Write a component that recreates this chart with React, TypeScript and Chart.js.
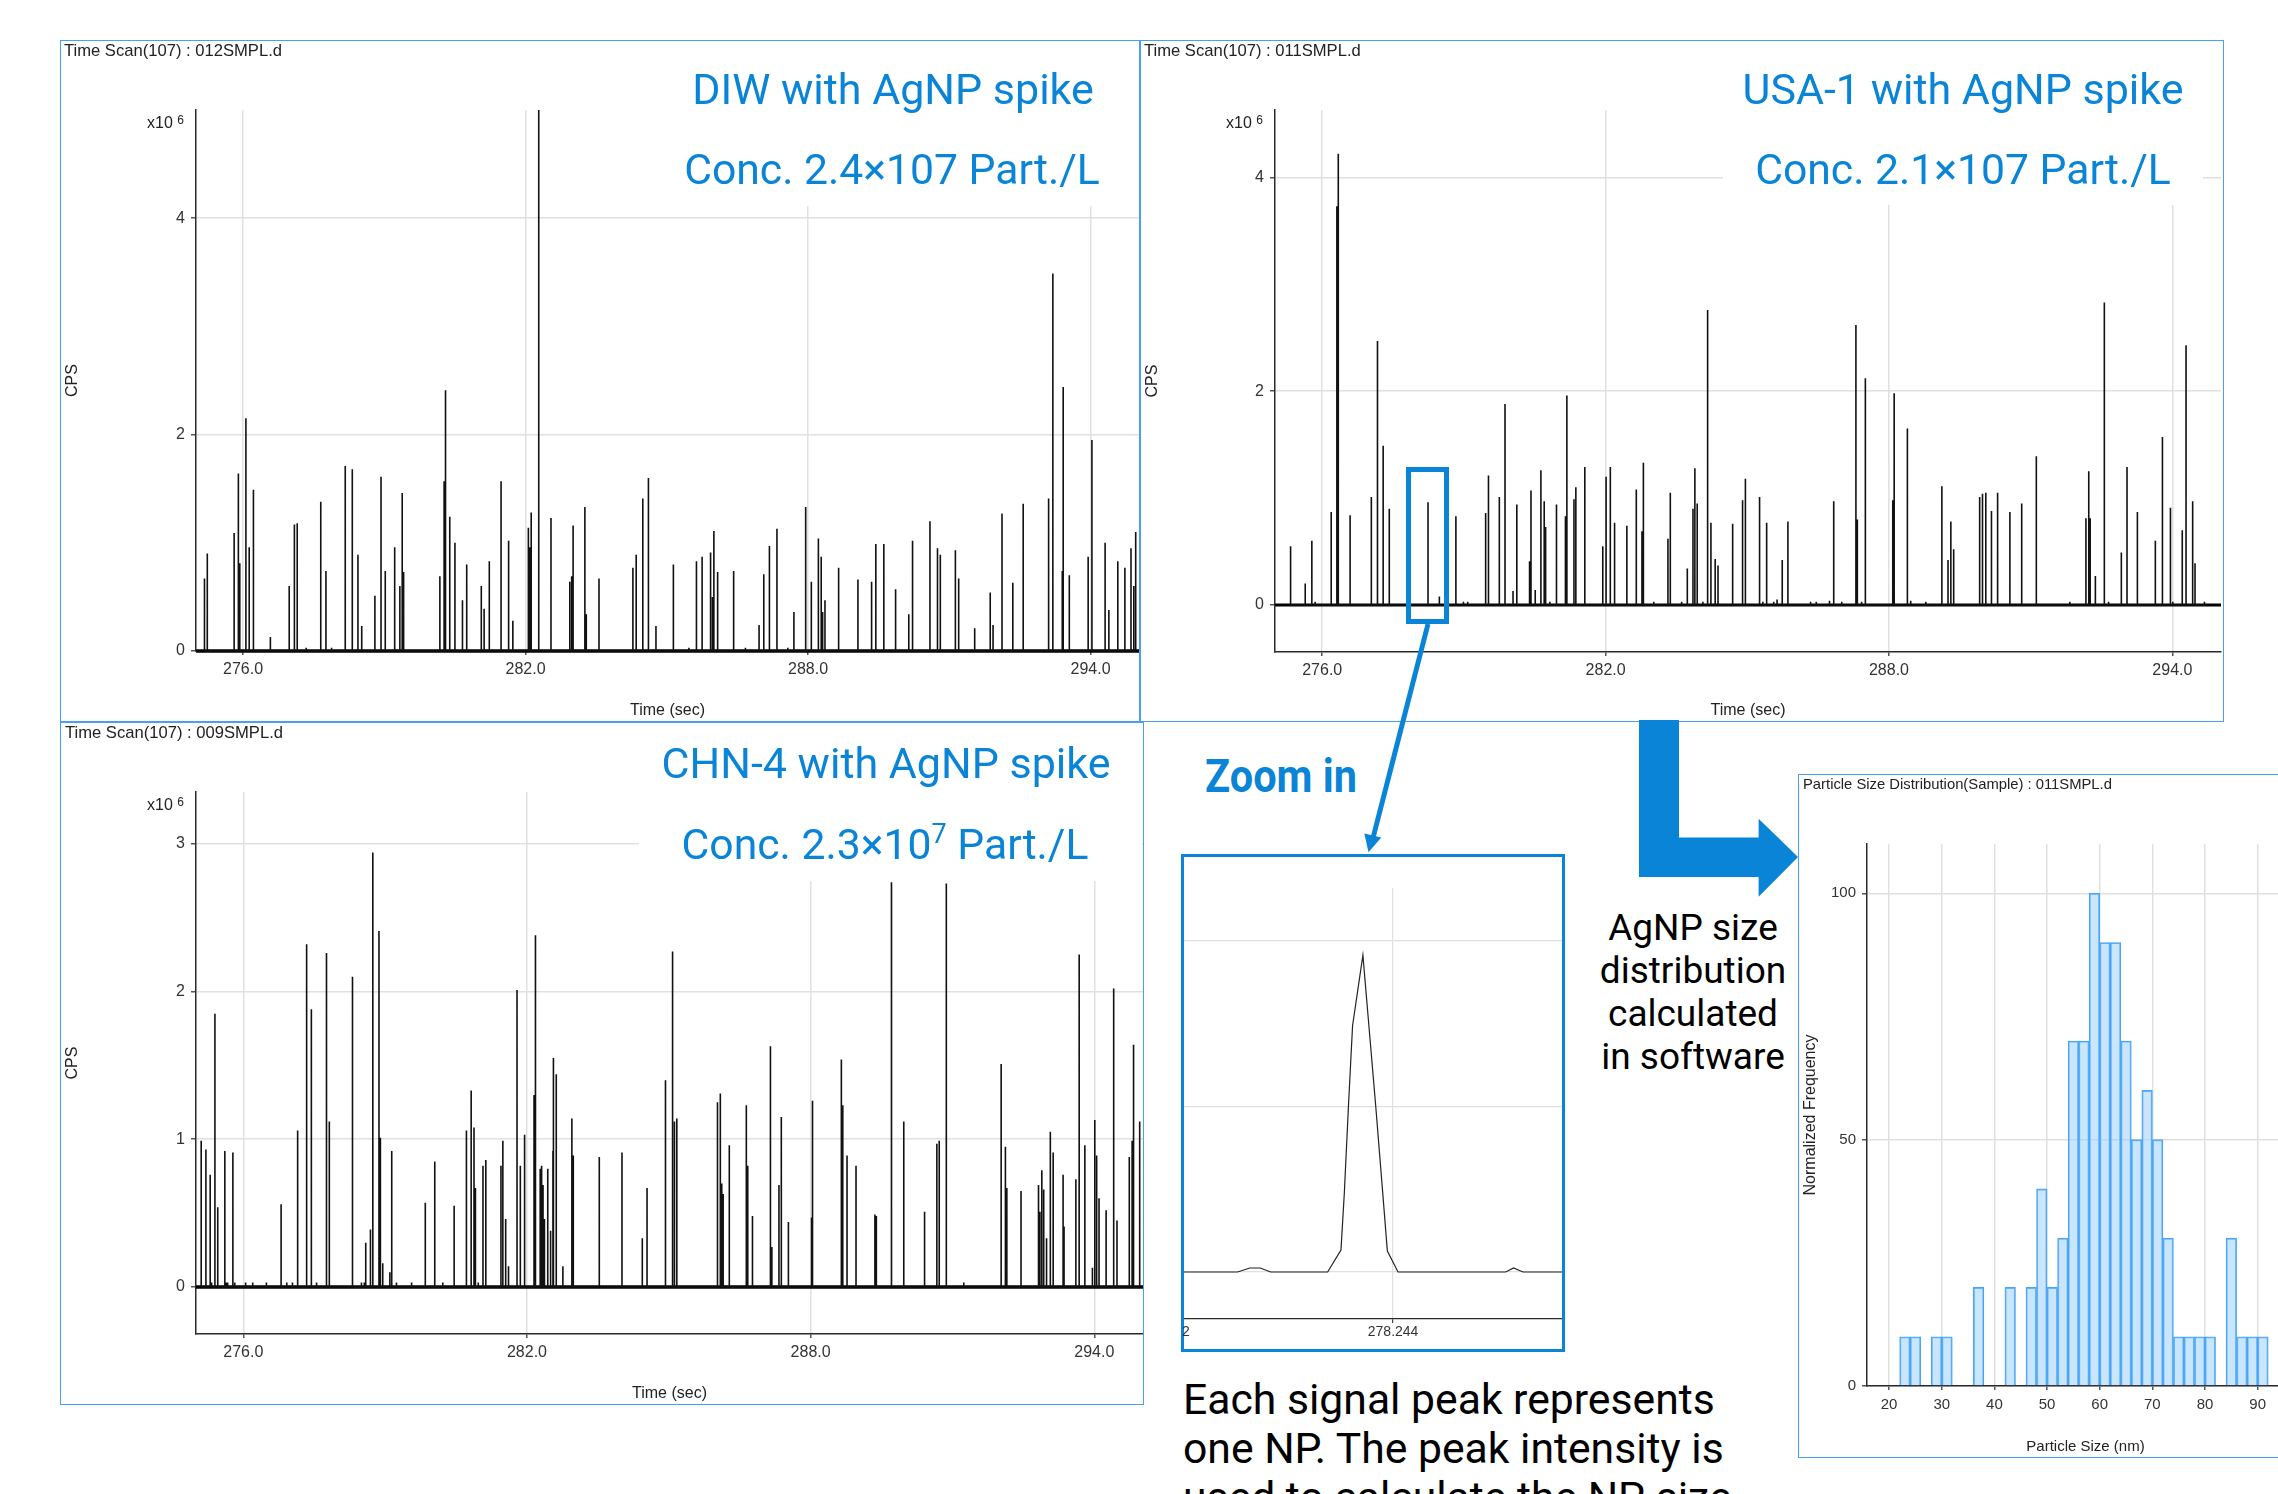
import React, { useEffect, useRef } from "react";
import { Chart, registerables } from "chart.js";

Chart.register(...registerables);

// ---------- DIW with AgNP spike (012SMPL.d), seconds and x10^6 CPS ----------
const diwTimes = [275.18,275.24,275.81,275.90,275.93,276.06,276.13,276.22,276.58,276.98,277.09,277.15,277.34,277.65,277.76,277.88,278.17,278.32,278.44,278.52,278.80,278.93,279.02,279.22,279.33,279.38,279.41,280.18,280.27,280.30,280.39,280.50,280.66,280.75,281.06,281.12,281.23,281.48,281.64,281.73,282.06,282.09,282.12,282.28,282.54,282.94,282.98,283.01,283.26,283.29,283.56,284.28,284.35,284.49,284.61,284.77,285.14,285.47,285.63,285.75,285.93,285.97,286.00,286.08,286.42,286.67,286.96,287.06,287.18,287.34,287.57,287.70,287.95,288.07,288.22,288.28,288.31,288.36,288.65,289.06,289.35,289.44,289.61,289.86,290.14,290.22,290.59,290.75,290.81,291.13,291.20,291.54,291.87,291.93,292.12,292.35,292.57,293.11,293.20,293.40,293.42,293.55,293.95,294.03,294.31,294.39,294.58,294.73,294.86,294.92,294.96];
const diwPeaks = [0.67,0.90,1.09,1.64,0.81,2.15,0.96,1.49,0.13,0.60,1.17,1.18,0.03,1.38,0.74,0.03,1.71,1.68,0.89,0.23,0.51,1.61,0.74,0.96,0.60,1.46,0.73,0.69,1.57,2.41,1.24,1.00,0.47,0.80,0.60,0.39,0.83,1.57,1.02,0.28,1.14,0.96,1.28,5.0,1.23,0.64,0.69,1.16,1.33,0.34,0.67,0.77,0.89,1.41,1.60,0.23,0.80,0.03,0.83,0.87,0.91,0.50,1.11,0.73,0.74,0.03,0.24,0.71,0.97,1.13,0.03,0.36,1.33,0.64,1.04,0.87,0.36,0.47,0.77,0.66,0.64,0.99,0.99,0.57,0.34,1.02,1.20,0.95,0.89,0.93,0.67,0.21,0.54,0.24,1.27,0.63,1.36,1.41,3.49,0.74,2.44,0.70,0.87,1.95,1.00,0.38,0.83,0.77,0.95,0.60,1.10];

// ---------- USA-1 with AgNP spike (011SMPL.d) ----------
const usaTimes = [275.33,275.64,275.78,275.85,276.19,276.31,276.34,276.59,277.04,277.17,277.29,277.42,278.24,278.48,278.83,278.99,279.08,279.46,279.52,279.75,279.87,280.04,280.12,280.39,280.42,280.51,280.63,280.70,280.73,280.82,280.96,281.15,281.18,281.33,281.37,281.56,281.94,282.01,282.10,282.19,282.45,282.65,282.77,282.80,283.02,283.32,283.37,283.61,283.73,283.85,283.89,283.94,284.06,284.16,284.23,284.32,284.38,284.69,284.90,284.96,285.26,285.33,285.41,285.56,285.63,285.74,285.86,286.34,286.46,286.74,286.83,287.00,287.30,287.33,287.42,287.50,288.08,288.11,288.39,288.46,288.78,289.12,289.25,289.31,289.37,289.92,289.98,290.05,290.17,290.30,290.56,290.81,291.12,291.83,292.17,292.23,292.26,292.37,292.56,292.65,292.92,293.04,293.26,293.64,293.79,293.96,294.01,294.21,294.29,294.43,294.48,294.68];
const usaPeaks = [0.55,0.20,0.60,0.03,0.87,3.73,4.22,0.84,1.01,2.47,1.49,0.90,0.96,0.08,0.83,0.03,0.03,0.86,1.21,1.01,1.88,0.13,0.94,0.41,1.07,0.14,1.26,0.97,0.73,0.03,0.94,0.83,1.96,0.99,1.10,1.29,0.55,1.20,1.29,0.77,0.74,1.08,0.69,1.33,0.03,0.62,1.05,0.03,0.34,0.90,1.28,0.95,0.03,2.76,0.77,0.43,0.37,0.76,0.98,1.18,1.01,0.03,0.77,0.03,0.05,0.42,0.78,0.03,0.03,0.04,0.97,0.03,2.62,0.80,0.03,2.12,0.98,1.98,1.65,0.04,0.03,1.11,0.42,0.78,0.52,1.01,1.04,1.05,0.88,1.05,0.87,0.95,1.39,0.03,0.81,1.25,0.81,0.27,2.83,0.03,0.49,1.29,0.87,0.60,1.57,0.91,0.03,0.70,2.43,0.97,0.39,0.03];

// ---------- CHN-4 with AgNP spike (009SMPL.d) ----------
const chnTimes = [275.11,275.21,275.30,275.33,275.40,275.46,275.61,275.64,275.67,275.78,275.82,276.05,276.20,276.49,276.80,276.92,277.04,277.15,277.34,277.44,277.55,277.76,277.82,278.31,278.50,278.56,278.59,278.69,278.74,278.87,278.90,278.95,279.10,279.14,279.24,279.56,279.85,280.05,280.22,280.46,280.72,280.82,280.88,280.91,280.97,281.07,281.13,281.45,281.49,281.55,281.61,281.79,281.86,281.95,282.15,282.18,282.28,282.31,282.34,282.37,282.44,282.50,282.55,282.56,282.62,282.76,282.95,282.98,283.53,284.01,284.44,284.54,284.93,285.08,285.12,285.17,286.03,286.09,286.12,286.15,286.28,286.64,286.67,286.77,287.15,287.18,287.33,287.38,287.53,288.02,288.04,288.65,288.68,288.77,288.96,289.36,289.39,289.71,289.97,290.41,290.67,290.72,290.87,291.24,292.03,292.12,292.15,292.45,292.82,292.85,292.89,292.93,292.99,293.07,293.13,293.34,293.36,293.61,293.68,293.80,293.96,294.01,294.05,294.10,294.25,294.41,294.48,294.74,294.80,294.83,294.96];
const chnPeaks = [0.99,0.93,0.76,0.03,1.85,0.54,0.92,0.03,0.03,0.91,0.03,0.03,0.03,0.03,0.56,0.03,0.03,1.06,2.32,1.88,0.03,2.26,1.12,2.10,0.03,0.03,0.30,0.39,2.94,2.41,1.01,0.16,0.10,0.92,0.03,0.03,0.57,0.85,0.03,0.55,1.06,1.33,1.08,0.67,0.03,0.82,0.86,0.82,0.99,0.46,0.14,2.01,0.82,1.03,1.30,2.38,0.80,0.82,0.69,0.46,0.80,0.38,0.92,1.55,1.44,0.14,1.14,0.89,0.88,0.91,0.33,0.67,1.40,2.27,1.12,1.14,1.25,1.31,0.70,0.63,0.96,1.23,0.82,0.48,1.63,0.27,0.69,1.15,0.44,0.47,1.26,1.54,1.23,0.89,0.82,0.49,0.48,2.74,1.12,0.51,0.97,0.99,2.73,0.03,1.51,0.95,0.67,0.65,0.69,0.51,0.79,0.66,0.33,1.05,0.91,0.76,0.41,0.73,2.25,0.96,0.13,1.13,0.89,0.60,0.52,2.02,0.45,0.88,0.99,1.64,1.12];

// ---------- Zoomed single peak ----------
const zoomTimes = [278.242169,278.242645,278.242753,278.242843,278.242933,278.24343,278.243546,278.243575,278.243611,278.243647,278.243737,278.243849,278.243924,278.24395,278.244043,278.244981,278.245049,278.245132,278.245478];
const zoomValues = [0,0,0.012,0.012,0,0,0.066,0.237,0.5,0.744,0.957,0.5,0.177,0.063,0,0,0.012,0,0];

// ---------- Particle size distribution ----------
const sizeBins = [23,25,29,31,37,43,47,49,51,53,55,57,59,61,63,65,67,69,71,73,75,77,79,81,85,87,89,91];
const sizeFreq = [10,10,10,10,20,20,20,40,20,30,70,70,100,90,90,70,50,60,50,30,10,10,10,10,30,10,10,10];

const BLUE = "#0a84d6";
const FRAME = "#4a9fee";
const GRID = "#e0e0e0";
const AXIS = "#2a2a2a";
const CHART_FONT = "'Liberation Sans', Arial, sans-serif";
const TEXT_FONT = "Roboto, sans-serif";

type Rect = { left: number; top: number; right: number; bottom: number };

function scanConfig(box: Rect, plot: Rect, times: number[], peaks: number[], yMin: number, yMax: number, yStep: number, baseWidth: number) {
  const xMin = 275, xMax = 295.03;
  const spikes: { x: number; y: number }[] = [];
  times.forEach((t, i) => {
    spikes.push({ x: t, y: 0 }, { x: t, y: peaks[i] }, { x: t, y: 0 });
  });
  return {
    type: "line",
    data: {
      datasets: [
        { data: spikes, borderColor: "#111", borderWidth: 1.6, pointRadius: 0, borderJoinStyle: "bevel", tension: 0, clip: 6 },
        { data: [{ x: xMin, y: 0 }, { x: xMax, y: 0 }], borderColor: "#000", borderWidth: baseWidth, pointRadius: 0, clip: 6 },
      ],
    },
    options: axisOptions(box, plot, {
      xMin, xMax, xStep: 6, yMin, yMax, yStep,
      xLabel: "Time (sec)", yLabel: "CPS", size: 16, titleX: 16, titleY: 16, tickPad: 5,
      xFmt: (v: number) => v.toFixed(1),
    }),
  };
}

function axisOptions(box: Rect, plot: Rect, o: any) {
  return {
    animation: false,
    responsive: false,
    events: [],
    layout: {
      autoPadding: false,
      padding: { left: 0, top: plot.top - box.top, right: box.right - plot.right, bottom: 0 },
    },
    plugins: { legend: { display: false }, tooltip: { enabled: false }, title: { display: false } },
    scales: {
      x: {
        type: "linear",
        offset: false,
        min: o.xMin,
        max: o.xMax,
        afterFit: (s: any) => { s.height = box.bottom - plot.bottom; },
        grid: { offset: false, color: GRID, lineWidth: 1.5, tickColor: "#555", tickLength: 4 },
        border: { color: AXIS, width: 1.5 },
        ticks: { stepSize: o.xStep, includeBounds: false, maxRotation: 0, autoSkip: false, padding: o.tickPad, color: "#333", font: { family: CHART_FONT, size: o.size }, callback: o.xFmt },
        title: { display: true, text: o.xLabel, color: "#222", font: { family: CHART_FONT, size: o.titleX }, padding: { top: 0, bottom: 2 } },
      },
      y: {
        type: "linear",
        min: o.yMin,
        max: o.yMax,
        afterFit: (s: any) => { s.width = plot.left - box.left; },
        grid: { color: GRID, lineWidth: 1.5, tickColor: "#555", tickLength: 5 },
        border: { color: AXIS, width: 1.5 },
        ticks: { stepSize: o.yStep, includeBounds: false, padding: 6, color: "#333", font: { family: CHART_FONT, size: o.size } },
        title: { display: true, text: o.yLabel, color: "#222", font: { family: CHART_FONT, size: o.titleY }, padding: { top: 3, bottom: 0 } },
      },
    },
  };
}

function histConfig(box: Rect, plot: Rect) {
  return {
    type: "bar",
    data: {
      datasets: [
        {
          data: sizeBins.map((b, i) => ({ x: b, y: sizeFreq[i] })),
          backgroundColor: "rgba(150,205,255,0.5)",
          borderColor: "#4aa5f5",
          borderWidth: 1.2,
          barPercentage: 1,
          categoryPercentage: 1,
        },
      ],
    },
    options: axisOptions(box, plot, {
      xMin: 15.8, xMax: 98.8, xStep: 10, yMin: 0, yMax: 110, yStep: 50,
      xLabel: "Particle Size (nm)", yLabel: "Normalized Frequency", size: 15, titleX: 15, titleY: 16, tickPad: 6,
      xFmt: (v: number) => String(v),
    }),
  };
}

function zoomConfig(box: Rect, plot: Rect) {
  return {
    type: "line",
    data: {
      datasets: [
        {
          data: zoomTimes.map((t, i) => ({ x: t, y: zoomValues[i] })),
          borderColor: "#222",
          borderWidth: 1.2,
          pointRadius: 0,
          tension: 0,
        },
      ],
    },
    options: {
      animation: false,
      responsive: false,
      events: [],
      layout: { autoPadding: false, padding: { left: 0, top: plot.top - box.top, right: box.right - plot.right, bottom: 0 } },
      plugins: { legend: { display: false }, tooltip: { enabled: false } },
      scales: {
        x: {
          type: "linear",
          min: 278.24217,
          max: 278.24548,
          afterFit: (s: any) => { s.height = box.bottom - plot.bottom; },
          afterBuildTicks: (s: any) => { s.ticks = [{ value: 278.244 }]; },
          grid: { color: GRID, lineWidth: 1.2, tickColor: "#444", tickLength: 4 },
          border: { color: AXIS, width: 1.2 },
          ticks: { maxRotation: 0, autoSkip: false, padding: 1, color: "#333", font: { family: CHART_FONT, size: 14 }, callback: (v: number) => Number(v).toFixed(3) },
        },
        y: {
          type: "linear",
          min: -0.142,
          max: 1.16,
          afterFit: (s: any) => { s.width = plot.left - box.left; },
          grid: { color: GRID, lineWidth: 1.2, drawTicks: false },
          border: { display: false },
          ticks: { stepSize: 0.5, includeBounds: false, display: false },
        },
      },
    },
  };
}

function Panel({ box, plot, build }: { box: Rect; plot: Rect; build: (b: Rect, p: Rect) => any }) {
  const ref = useRef<HTMLCanvasElement>(null);
  useEffect(() => {
    const chart = new Chart(ref.current as any, build(box, plot));
    return () => chart.destroy();
  }, []);
  return (
    <canvas
      ref={ref}
      width={box.right - box.left}
      height={box.bottom - box.top}
      style={{ position: "absolute", left: box.left, top: box.top, width: box.right - box.left, height: box.bottom - box.top }}
    />
  );
}

function Label({ x, y, size, color, font, weight, anchor, scaleX, children }: any) {
  const tx = anchor === "left" ? "0" : "-50%";
  return (
    <div
      style={{
        position: "absolute",
        left: x,
        top: y,
        transform: `translate(${tx},-50%)${scaleX ? ` scaleX(${scaleX})` : ""}`,
        transformOrigin: "center",
        whiteSpace: "nowrap",
        fontFamily: font || TEXT_FONT,
        fontSize: size,
        fontWeight: weight || 400,
        color: color || "#000",
        lineHeight: 1,
      }}
    >
      {children}
    </div>
  );
}

function Frame({ r, width = 1.5, color = FRAME }: { r: Rect; width?: number; color?: string }) {
  return (
    <div
      style={{
        position: "absolute",
        left: r.left,
        top: r.top,
        width: r.right - r.left,
        height: r.bottom - r.top,
        border: `${width}px solid ${color}`,
        boxSizing: "border-box",
      }}
    />
  );
}

function White({ r }: { r: Rect }) {
  return <div style={{ position: "absolute", left: r.left, top: r.top, width: r.right - r.left, height: r.bottom - r.top, background: "#fff" }} />;
}

function Exp({ x, y, value }: { x: number; y: number; value: string }) {
  return (
    <Label x={x} y={y} size={16} color="#222" font={CHART_FONT} anchor="left">
      x10 <span style={{ fontSize: 12, position: "relative", top: -4 }}>{value}</span>
    </Label>
  );
}

const box1 = { left: 60, top: 40, right: 1140, bottom: 722 };
const plot1 = { left: 196, top: 110, right: 1139, bottom: 651 };
const box2 = { left: 1140, top: 40, right: 2224, bottom: 722 };
const plot2 = { left: 1275, top: 110, right: 2221, bottom: 652 };
const box3 = { left: 60, top: 722, right: 1144, bottom: 1405 };
const plot3 = { left: 196, top: 792, right: 1143, bottom: 1334 };
const boxZ = { left: 1181, top: 854, right: 1565, bottom: 1352 };
const plotZ = { left: 1183, top: 888, right: 1563, bottom: 1319 };
const boxH = { left: 1798, top: 774, right: 2310, bottom: 1458 };
const plotH = { left: 1867, top: 844, right: 2304, bottom: 1386 };

export default function App() {
  return (
    <div style={{ position: "absolute", left: 0, top: 0, width: 2278, height: 1494, overflow: "hidden", background: "#fff" }}>
      <Panel box={box1} plot={plot1} build={(b, p) => scanConfig(b, p, diwTimes, diwPeaks, 0, 5, 2, 3.5)} />
      <Panel box={box2} plot={plot2} build={(b, p) => scanConfig(b, p, usaTimes, usaPeaks, -0.44, 4.63, 2, 3)} />
      <Panel box={box3} plot={plot3} build={(b, p) => scanConfig(b, p, chnTimes, chnPeaks, -0.318, 3.35, 1, 3.5)} />
      <Panel box={boxZ} plot={plotZ} build={zoomConfig} />
      <Panel box={boxH} plot={plotH} build={histConfig} />

      <White r={{ left: 660, top: 42, right: 1138, bottom: 206 }} />
      <White r={{ left: 1723, top: 42, right: 2203, bottom: 205 }} />
      <White r={{ left: 639, top: 725, right: 1142, bottom: 881 }} />

      <Frame r={box1} />
      <Frame r={box2} />
      <Frame r={box3} />
      <Frame r={boxH} />
      <Frame r={boxZ} width={3} color={BLUE} />

      <Label x={64} y={51} size={16.6} color="#222" font={CHART_FONT} anchor="left">Time Scan(107) : 012SMPL.d</Label>
      <Label x={1144} y={51} size={16.6} color="#222" font={CHART_FONT} anchor="left">Time Scan(107) : 011SMPL.d</Label>
      <Label x={65} y={733} size={16.6} color="#222" font={CHART_FONT} anchor="left">Time Scan(107) : 009SMPL.d</Label>
      <Label x={1803} y={784} size={14.8} color="#222" font={CHART_FONT} anchor="left">Particle Size Distribution(Sample) : 011SMPL.d</Label>

      <Exp x={147} y={123} value="6" />
      <Exp x={1226} y={123} value="6" />
      <Exp x={147} y={805} value="6" />

      <Label x={893} y={89} size={43} color={BLUE}>DIW with AgNP spike</Label>
      <Label x={892} y={169} size={42.7} color={BLUE}>Conc. 2.4×107 Part./L</Label>
      <Label x={1963} y={89} size={43} color={BLUE}>USA-1 with AgNP spike</Label>
      <Label x={1963} y={169} size={42.7} color={BLUE}>Conc. 2.1×107 Part./L</Label>
      <Label x={886} y={763} size={43} color={BLUE}>CHN-4 with AgNP spike</Label>
      <Label x={885} y={844} size={42.7} color={BLUE}>
        Conc. 2.3×10<sup style={{ fontSize: 27, lineHeight: 0 }}>7</sup> Part./L
      </Label>

      <Label x={1281} y={776} size={46} color={BLUE} weight={700} scaleX={0.9}>Zoom in</Label>

      <Label x={1693} y={927} size={37}>AgNP size</Label>
      <Label x={1693} y={970} size={37}>distribution</Label>
      <Label x={1693} y={1013} size={37}>calculated</Label>
      <Label x={1693} y={1056} size={37}>in software</Label>

      <Label x={1183} y={1399} size={42.7} anchor="left">Each signal peak represents</Label>
      <Label x={1183} y={1448} size={42.7} anchor="left">one NP. The peak intensity is</Label>
      <Label x={1183} y={1497} size={42.7} anchor="left">used to calculate the NP size</Label>

      <Label x={1182} y={1331} size={14} color="#333" font={CHART_FONT} anchor="left">2</Label>

      <div style={{ position: "absolute", left: 1406, top: 467, width: 43, height: 157, border: `5px solid ${BLUE}`, boxSizing: "border-box" }} />

      <svg width={2278} height={1494} style={{ position: "absolute", left: 0, top: 0 }}>
        <line x1={1428} y1={624} x2={1373} y2={838} stroke={BLUE} strokeWidth={5} />
        <polygon points="1364.3,833.5 1381.3,837.5 1368.5,852.3" fill={BLUE} />
        <polygon points="1639,720 1679,720 1679,837.5 1758.6,837.5 1758.6,818.7 1798,857 1758.6,896.7 1758.6,877 1639,877" fill={BLUE} />
      </svg>
    </div>
  );
}
